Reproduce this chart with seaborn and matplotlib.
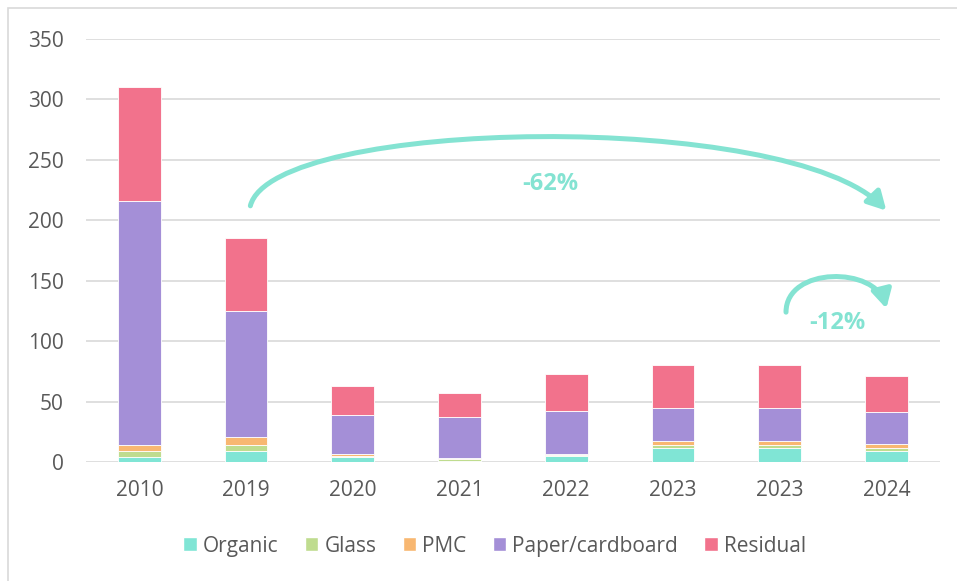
import matplotlib
matplotlib.use("Agg")
import matplotlib.pyplot as plt
import pandas as pd
import seaborn as sns
from matplotlib.patches import Patch, Rectangle, FancyArrowPatch
from matplotlib.path import Path

years = ["2010", "2019", "2020", "2021", "2022", "2023", "2023", "2024"]
organic = [4, 9, 4, 1, 5, 12, 12, 9]
glass = [5, 5, 1, 1.5, 1, 2, 2, 2.5]
pmc = [5, 7, 2, 0.5, 1, 3, 3, 3]
paper = [202, 104, 32, 34, 35, 28, 28, 26.5]
residual = [94, 60, 23.5, 20, 31, 35, 35, 30]

series = ["Organic", "Glass", "PMC", "Paper/cardboard", "Residual"]
colors = ["#80E5D5", "#BFDC8F", "#F8B771", "#A48FD7", "#F2728C"]
accent = "#84E3D2"

sns.set_theme(style="white")
plt.rcParams["font.family"] = ["Open Sans", "DejaVu Sans"]

df = pd.DataFrame({
    "slot": [str(i) for i in range(len(years))],
    "Organic": organic,
    "Glass": glass,
    "PMC": pmc,
    "Paper/cardboard": paper,
    "Residual": residual,
})

fig = plt.figure(figsize=(9.57, 5.81), dpi=100)
ax = fig.add_axes([0.0899, 0.2048, 0.892, 0.728])

# stacked bars, one layer at a time
bottom = [0.0] * len(years)
for name, col in zip(series, colors):
    sns.barplot(data=df, x="slot", y=name, color=col, width=0.4,
                bottom=bottom, ax=ax, edgecolor="white", linewidth=0.6,
                saturation=1)
    bottom = [b + v for b, v in zip(bottom, df[name])]

ax.set_ylim(0, 350)
ax.set_yticks(range(0, 351, 50))
ax.set_xlim(-0.5, len(years) - 0.5)
ax.set_xticks(range(len(years)))
ax.set_xticklabels(years)
ax.set_xlabel("")
ax.set_ylabel("")
ax.yaxis.grid(True, color="#d9d9d9", linewidth=1.2)
ax.set_axisbelow(True)
for s in ax.spines.values():
    s.set_visible(False)
ax.tick_params(axis="both", labelsize=15, labelcolor="#595959", length=0)
ax.tick_params(axis="x", pad=13)
ax.tick_params(axis="y", pad=16)

# arrows showing the reductions
big = Path([(1.04, 212), (1.25, 285), (6.1, 292), (7.0, 208)],
           [Path.MOVETO, Path.CURVE4, Path.CURVE4, Path.CURVE4])
ax.add_patch(FancyArrowPatch(path=big, arrowstyle="-|>,head_length=11,head_width=6",
                             color=accent, linewidth=3.6, mutation_scale=1))
small = Path([(6.06, 124), (6.06, 162), (6.9, 162), (7.0, 127)],
             [Path.MOVETO, Path.CURVE4, Path.CURVE4, Path.CURVE4])
ax.add_patch(FancyArrowPatch(path=small, arrowstyle="-|>,head_length=11,head_width=6",
                             color=accent, linewidth=3.6, mutation_scale=1))
ax.text(3.85, 230, "-62%", color=accent, fontsize=17, fontweight="bold",
        ha="center", va="center")
ax.text(6.54, 115, "-12%", color=accent, fontsize=17, fontweight="bold",
        ha="center", va="center")

handles = [Patch(facecolor=c, label=n) for n, c in zip(series, colors)]
fig.legend(handles=handles, loc="center", bbox_to_anchor=(0.517, 0.06),
           ncol=5, frameon=False, fontsize=15, handlelength=0.65,
           handleheight=0.65, handletextpad=0.3, columnspacing=1.25,
           labelcolor="#595959")

fig.patches.append(Rectangle((8 / 957, -0.05), 1.0, (581 - 8) / 581 + 0.05,
                             transform=fig.transFigure, fill=False,
                             edgecolor="#d9d9d9", linewidth=1.2))

fig.savefig("out.png", dpi=100)
